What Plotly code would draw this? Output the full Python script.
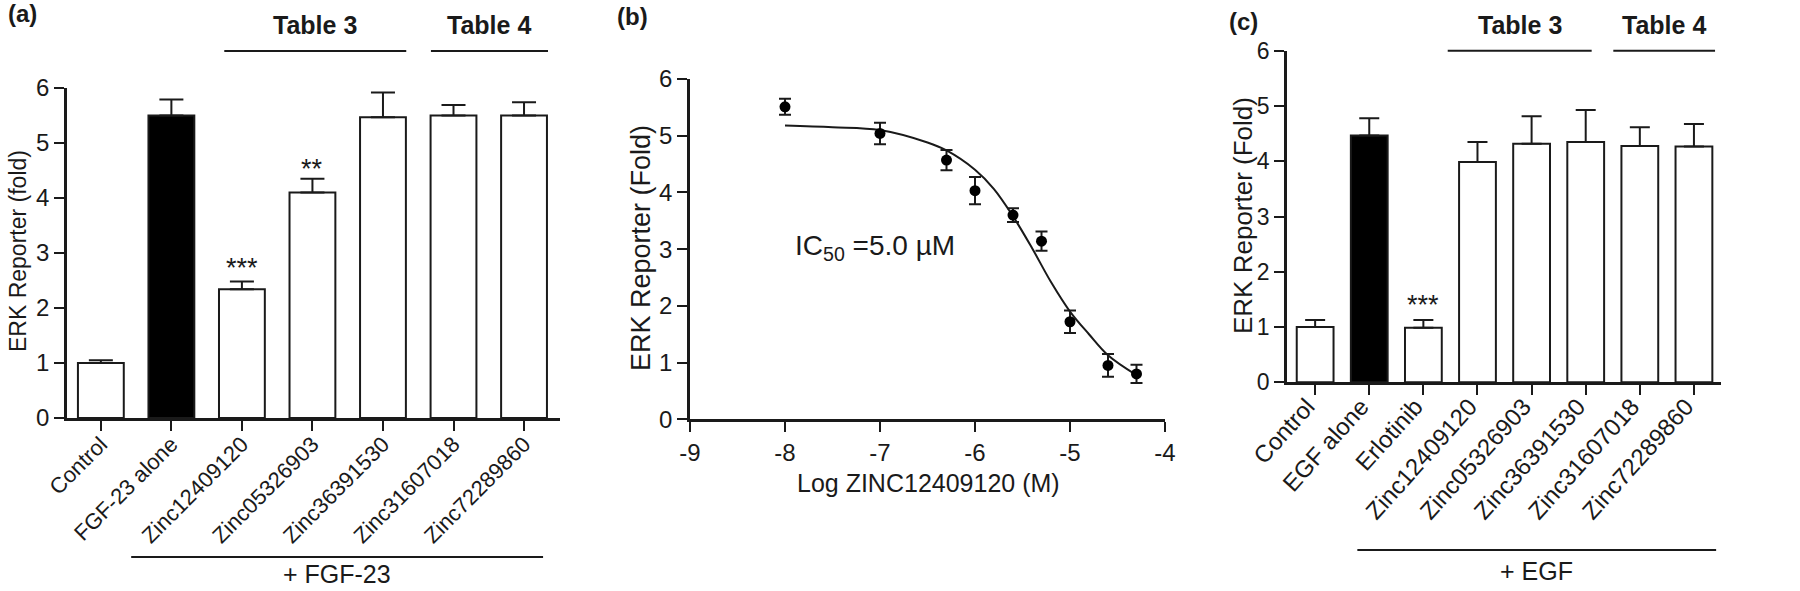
import plotly.graph_objects as go

# ---------------- data ----------------
# Panel (a)
cats_a = ["Control", "FGF-23 alone", "Zinc12409120", "Zinc05326903",
          "Zinc36391530", "Zinc31607018", "Zinc72289860"]
vals_a = [1.00, 5.50, 2.34, 4.10, 5.47, 5.50, 5.50]
errs_a = [0.05, 0.29, 0.14, 0.25, 0.45, 0.19, 0.24]
stars_a = [("***", "Zinc12409120", 2.84), ("**", "Zinc05326903", 4.64)]

# Panel (b)
logc_b = [-8.0, -7.0, -6.3, -6.0, -5.6, -5.3, -5.0, -4.6, -4.3]
resp_b = [5.51, 5.04, 4.57, 4.03, 3.60, 3.14, 1.72, 0.95, 0.80]
errs_b = [0.14, 0.19, 0.18, 0.24, 0.12, 0.17, 0.20, 0.20, 0.16]
fit_x_b = [-8.0, -7.5, -7.0, -6.5, -6.3, -6.0, -5.8, -5.6, -5.4, -5.2, -5.0, -4.8, -4.6, -4.3]
fit_y_b = [5.18, 5.15, 5.10, 4.88, 4.74, 4.40, 4.06, 3.58, 3.02, 2.42, 1.90, 1.50, 1.13, 0.78]
xticks_b = [-9, -8, -7, -6, -5, -4]
xtick_text_b = ["-9", "-8", "-7", "-6", "-5", "-4"]

# Panel (c)
cats_c = ["Control", "EGF alone", "Erlotinib", "Zinc12409120", "Zinc05326903",
          "Zinc36391530", "Zinc31607018", "Zinc72289860"]
vals_c = [1.00, 4.47, 0.99, 3.99, 4.32, 4.35, 4.28, 4.27]
errs_c = [0.13, 0.31, 0.14, 0.36, 0.50, 0.58, 0.34, 0.41]
stars_c = [("***", "Erlotinib", 1.51)]

yticks = [0, 1, 2, 3, 4, 5, 6]

# ---------------- layout helpers ----------------
W, H = 1800, 591
FONT = "Liberation Sans, Arial, sans-serif"
INK = "#1a1a1a"


def px(x):
    return x / W


def py(y):
    return 1 - y / H


fig = go.Figure()

# Panel (a) bars
fill_a = ["black" if c == "FGF-23 alone" else "white" for c in cats_a]
fig.add_trace(go.Bar(
    x=cats_a, y=vals_a, width=0.65,
    marker=dict(color=fill_a, line=dict(color=INK, width=2)),
    error_y=dict(type="data", symmetric=False, array=errs_a,
                 arrayminus=[0] * len(errs_a), color=INK, thickness=2, width=12),
    xaxis="x", yaxis="y", showlegend=False))

# Panel (b) fit + points
fig.add_trace(go.Scatter(
    x=fit_x_b, y=fit_y_b, mode="lines", line=dict(color=INK, width=2, shape="spline"),
    xaxis="x2", yaxis="y2", showlegend=False))
fig.add_trace(go.Scatter(
    x=logc_b, y=resp_b, mode="markers",
    marker=dict(color="black", size=11),
    error_y=dict(type="data", array=errs_b, color=INK, thickness=2, width=6),
    xaxis="x2", yaxis="y2", showlegend=False))

# Panel (c) bars
fill_c = ["black" if c == "EGF alone" else "white" for c in cats_c]
fig.add_trace(go.Bar(
    x=cats_c, y=vals_c, width=0.68,
    marker=dict(color=fill_c, line=dict(color=INK, width=2)),
    error_y=dict(type="data", symmetric=False, array=errs_c,
                 arrayminus=[0] * len(errs_c), color=INK, thickness=2, width=10),
    xaxis="x3", yaxis="y3", showlegend=False))

axis_common = dict(showline=True, linecolor=INK, linewidth=2.5, showgrid=False,
                   zeroline=False, ticks="outside", ticklen=10, tickwidth=2,
                   tickcolor=INK, mirror=False, automargin=False)

fig.update_layout(
    template="none",
    width=W, height=H, autosize=False,
    margin=dict(l=0, r=0, t=0, b=0, pad=0),
    paper_bgcolor="white", plot_bgcolor="white",
    font=dict(family=FONT, color=INK),
    showlegend=False,
    xaxis=dict(domain=[px(67), px(560)], range=[-0.48, 6.51], anchor="y",
               tickangle=-45, tickfont=dict(size=22), type="category",
               ticklabelstandoff=-8, **axis_common),
    yaxis=dict(domain=[py(418), py(88)], range=[0, 6], anchor="x",
               tickvals=yticks, tickfont=dict(size=24), **axis_common),
    xaxis2=dict(domain=[px(690), px(1165)], range=[-9, -4], anchor="y2",
                tickvals=xticks_b, ticktext=xtick_text_b, tickfont=dict(size=24),
                **axis_common),
    yaxis2=dict(domain=[py(419.3), py(79)], range=[0, 6], anchor="x2",
                tickvals=yticks, tickfont=dict(size=24), **axis_common),
    xaxis3=dict(domain=[px(1287), px(1721)], range=[-0.52, 7.5], anchor="y3",
                tickangle=-48, tickfont=dict(size=24), type="category",
                ticklabelstandoff=-12, ticklabelshift=-8, **axis_common),
    yaxis3=dict(domain=[py(382.3), py(51)], range=[0, 6], anchor="x3",
                tickvals=yticks, tickfont=dict(size=23), **axis_common),
)

ann = []
shapes = []

# panel labels
for lab, x, y in [("(a)", 22, 14), ("(b)", 632, 16), ("(c)", 1243, 22)]:
    ann.append(dict(text=f"<b>{lab}</b>", x=px(x), y=py(y), xref="paper", yref="paper",
                    showarrow=False, font=dict(size=24), xanchor="center", yanchor="middle"))

# y-axis titles
for t, x, y, s in [("ERK Reporter (fold)", 18, 251, 23),
                   ("ERK Reporter (Fold)", 641, 248, 27),
                   ("ERK Reporter (Fold)", 1243, 216, 26)]:
    ann.append(dict(text=t, x=px(x), y=py(y), xref="paper", yref="paper", textangle=-90,
                    showarrow=False, font=dict(size=s), xanchor="center", yanchor="middle"))

# x-axis title (b)
ann.append(dict(text="Log ZINC12409120 (M)", x=px(928), y=py(483), xref="paper", yref="paper",
                showarrow=False, font=dict(size=25), xanchor="center", yanchor="middle"))

# IC50 text (b)
ann.append(dict(text="IC<sub>50</sub> =5.0 \u00b5M", x=px(793), y=py(247), xref="paper",
                yref="paper", showarrow=False, font=dict(size=28), xanchor="left",
                yanchor="middle"))

# significance stars
for txt, cat, yv in stars_a:
    ann.append(dict(text=txt, x=cat, y=yv, xref="x", yref="y", showarrow=False,
                    font=dict(size=27), yshift=-6))
for txt, cat, yv in stars_c:
    ann.append(dict(text=txt, x=cat, y=yv, xref="x3", yref="y3", showarrow=False,
                    font=dict(size=27), yshift=-6))

# group brackets (in category units)
groups_a = [("Table 3", 1.75, 4.33), ("Table 4", 4.68, 6.34)]
groups_c = [("Table 3", 2.45, 5.11), ("Table 4", 5.51, 7.39)]
for groups, xr, line_y, text_y in [(groups_a, "x", 51, 25), (groups_c, "x3", 50.7, 25)]:
    for name, x0, x1 in groups:
        shapes.append(dict(type="line", xref=xr, yref="paper", x0=x0, x1=x1,
                           y0=py(line_y), y1=py(line_y), line=dict(color=INK, width=2)))
        ann.append(dict(text=f"<b>{name}</b>", x=(x0 + x1) / 2, y=py(text_y), xref=xr,
                        yref="paper", showarrow=False, font=dict(size=25),
                        xanchor="center", yanchor="middle"))

# treatment brackets under labels
for name, xr, x0, x1, line_y, text_y in [("+ FGF-23", "x", 0.43, 6.27, 557, 574),
                                         ("+ EGF", "x3", 0.78, 7.41, 550, 571)]:
    shapes.append(dict(type="line", xref=xr, yref="paper", x0=x0, x1=x1,
                       y0=py(line_y), y1=py(line_y), line=dict(color=INK, width=2)))
    ann.append(dict(text=name, x=(x0 + x1) / 2, y=py(text_y), xref=xr, yref="paper",
                    showarrow=False, font=dict(size=25), xanchor="center", yanchor="middle"))

fig.update_layout(annotations=ann, shapes=shapes)

fig.write_html("out.html",
               config={"displayModeBar": False},
               post_script="document.body.style.margin='0';document.body.style.padding='0';")
